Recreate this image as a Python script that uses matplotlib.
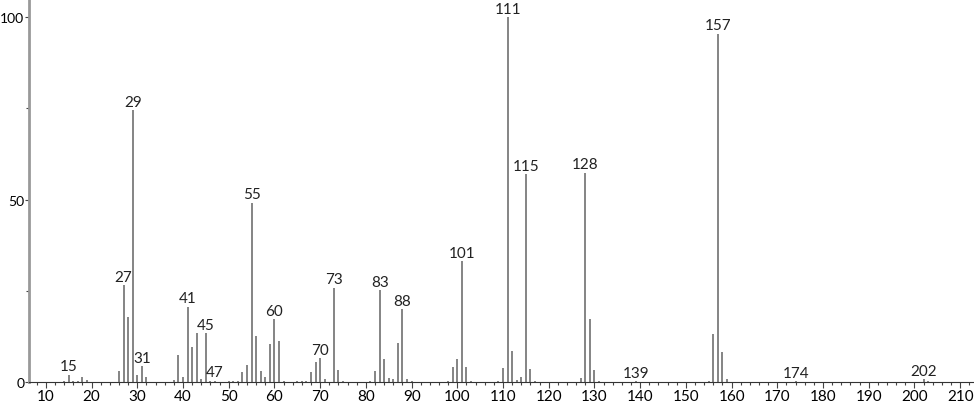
import numpy as np
import matplotlib
matplotlib.use('Agg')
import matplotlib.pyplot as plt
from matplotlib.ticker import MultipleLocator

# m/z values and relative intensities
mz = [14, 15, 16, 17, 18, 19, 26, 27, 28, 29, 30, 31, 32, 38, 39, 40, 41, 42, 43, 44,
      45, 46, 47, 50, 51, 52, 53, 54, 55, 56, 57, 58, 59, 60, 61, 62, 65, 66, 67, 68,
      69, 70, 71, 73, 74, 75, 81, 82, 83, 84, 85, 86, 87, 88, 89, 90, 98, 99, 100, 101,
      102, 103, 109, 110, 111, 112, 113, 114, 115, 116, 117, 127, 128, 129, 130, 131, 139, 155, 156, 157,
      158, 159, 174, 202, 203]
intensity = [0.4, 2.0, 0.3, 0.4, 1.3, 0.5, 2.9, 26.6, 17.8, 74.5, 1.9, 4.3, 1.3, 0.5, 7.4, 1.3, 20.6, 9.5, 13.3, 0.9,
             13.4, 0.4, 0.4, 0.3, 0.3, 0.3, 2.7, 4.7, 49.2, 12.6, 3.1, 1.3, 10.4, 17.3, 11.3, 0.3, 0.3, 0.3, 0.3, 2.7,
             5.6, 6.6, 0.8, 25.9, 3.4, 0.3, 0.3, 2.9, 25.1, 6.3, 1.2, 0.8, 10.7, 20.0, 0.8, 0.3, 0.3, 4.1, 6.3, 33.2,
             4.1, 0.3, 0.3, 3.9, 100.0, 8.5, 0.5, 1.5, 57.0, 3.7, 0.3, 1.1, 57.4, 17.4, 3.4, 0.3, 0.3, 0.3, 13.2, 95.5,
             8.2, 0.8, 0.3, 0.8, 0.3]

# peaks that get their m/z printed on top
labelled = [15, 27, 29, 31, 41, 45, 47, 55, 60, 70, 73, 83, 88, 101, 111, 115, 128, 139, 157, 174, 202]

x_ticks = list(range(10, 211, 10))
y_ticks = [0, 50, 100]

plt.rcParams['font.family'] = ['Lato', 'DejaVu Sans']

fig = plt.figure(figsize=(9.74, 4.06), dpi=100)
ax = fig.add_axes([29/974, 23/406, 944/974, 383/406])

ax.vlines(mz, 0, intensity, color='#707070', linewidth=1.2)

lookup = dict(zip(mz, intensity))
for m in labelled:
	ax.annotate(str(m), (m, lookup[m]), xytext=(0, 1), textcoords='offset points',
	            ha='center', va='bottom', fontsize=11, color='#222222')

# axes formatting
ax.set_xlim(6.3, 212.8)
ax.set_ylim(0, 105)
ax.set_xticks(x_ticks)
ax.set_yticks(y_ticks)
ax.xaxis.set_minor_locator(MultipleLocator(2))
ax.yaxis.set_minor_locator(MultipleLocator(25))
ax.tick_params(axis='x', which='major', labelsize=11, length=4, width=0.8, color='#444444', pad=1)
ax.tick_params(axis='y', which='major', labelsize=10, length=3, width=0.8, color='#444444', pad=0.5)
ax.tick_params(axis='both', which='minor', length=2, width=0.8, color='#444444')

for side in ['top', 'right']:
	ax.spines[side].set_visible(False)
ax.spines['left'].set_color('#999999')
ax.spines['left'].set_linewidth(2)
ax.spines['bottom'].set_color('#333333')
ax.spines['bottom'].set_linewidth(0.8)

fig.savefig('out.png', dpi=100)
